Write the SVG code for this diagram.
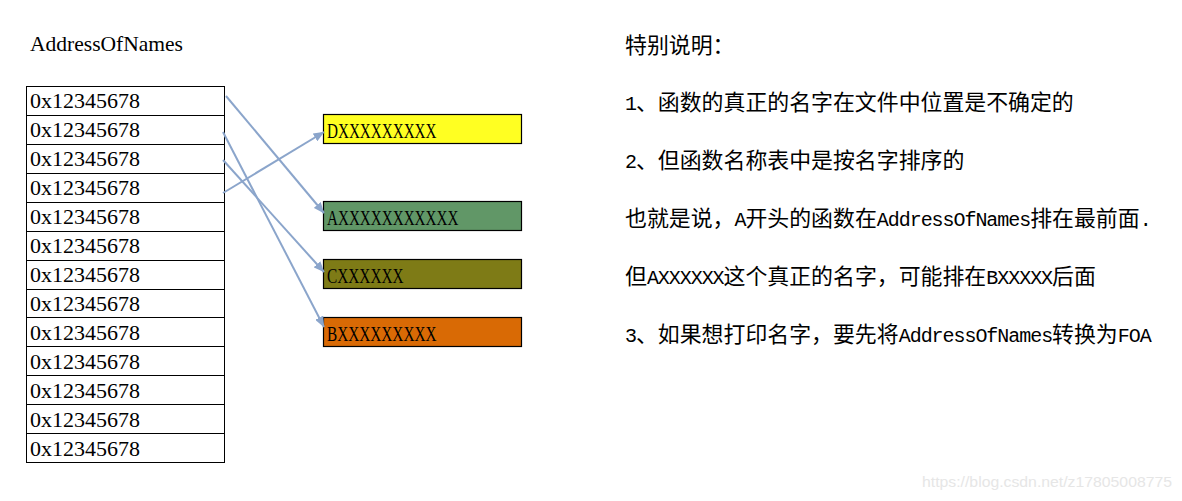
<svg xmlns="http://www.w3.org/2000/svg" width="1182" height="501" viewBox="0 0 1182 501">
<style>
.lt{font-family:"Liberation Serif",serif;font-size:22px;fill:#000}
.mo{font-family:"Liberation Mono",monospace;font-size:20px;letter-spacing:-1.05px;fill:#000}
.cn{font-family:"Noto Sans CJK SC","Noto Sans CJK JP",sans-serif;font-size:21.9px;fill:#000}
.cell{fill:none;stroke:#000;stroke-width:1}
.box{stroke:#000;stroke-width:1.2}
.conn{fill:none;stroke:#8BA5CB;stroke-width:2}
.wm{font-family:"Liberation Sans",sans-serif;font-size:15px;fill:#E6E6E6}
</style>
<defs>
<marker id="ah" markerUnits="userSpaceOnUse" markerWidth="11" markerHeight="9" refX="10.5" refY="4.5" orient="auto">
<path d="M0,0 L11,4.5 L0,9 z" fill="#8BA5CB"/>
</marker>
</defs>
<rect width="1182" height="501" fill="#fff"/>

<g id="title">
<text class="lt" x="30" y="51" textLength="153" lengthAdjust="spacingAndGlyphs">AddressOfNames</text>
</g>

<g id="table">
<rect class="cell" x="26.5" y="86.5" width="198" height="376"/>
<path class="cell" d="M26.5,115.5H224.5M26.5,144.5H224.5M26.5,173.5H224.5M26.5,202.5H224.5M26.5,231.5H224.5M26.5,260.5H224.5M26.5,289.5H224.5M26.5,317.5H224.5M26.5,346.5H224.5M26.5,375.5H224.5M26.5,404.5H224.5M26.5,433.5H224.5"/>
<text class="lt" x="30" y="108">0x12345678</text>
<text class="lt" x="30" y="137">0x12345678</text>
<text class="lt" x="30" y="166">0x12345678</text>
<text class="lt" x="30" y="195">0x12345678</text>
<text class="lt" x="30" y="224">0x12345678</text>
<text class="lt" x="30" y="253">0x12345678</text>
<text class="lt" x="30" y="282">0x12345678</text>
<text class="lt" x="30" y="311">0x12345678</text>
<text class="lt" x="30" y="340">0x12345678</text>
<text class="lt" x="30" y="369">0x12345678</text>
<text class="lt" x="30" y="398">0x12345678</text>
<text class="lt" x="30" y="427">0x12345678</text>
<text class="lt" x="30" y="456">0x12345678</text>
</g>

<g id="nodeD">
<rect class="box" x="323.5" y="114.5" width="198" height="29" fill="#FFFF22"/>
<text class="lt" x="327" y="137.5" textLength="109.5" lengthAdjust="spacingAndGlyphs">DXXXXXXXXX</text>
</g>
<g id="nodeA">
<rect class="box" x="323.5" y="201.5" width="198" height="29" fill="#619767"/>
<text class="lt" x="327" y="224.5" textLength="131.4" lengthAdjust="spacingAndGlyphs">AXXXXXXXXXXX</text>
</g>
<g id="nodeC">
<rect class="box" x="323.5" y="259.5" width="198" height="29" fill="#7E7B16"/>
<text class="lt" x="327" y="282.5" textLength="76.6" lengthAdjust="spacingAndGlyphs">CXXXXXX</text>
</g>
<g id="nodeB">
<rect class="box" x="323.5" y="317.5" width="198" height="29" fill="#D96A05"/>
<text class="lt" x="327" y="340.5" textLength="109.5" lengthAdjust="spacingAndGlyphs">BXXXXXXXXX</text>
</g>

<g id="connectors">
<line class="conn" x1="226" y1="96" x2="324" y2="213" marker-end="url(#ah)"/>
<line class="conn" x1="223" y1="132" x2="324" y2="327" marker-end="url(#ah)"/>
<line class="conn" x1="223" y1="160" x2="324" y2="272" marker-end="url(#ah)"/>
<line class="conn" x1="223" y1="193" x2="324" y2="132" marker-end="url(#ah)"/>
</g>

<g id="notes">
<text class="cn" x="625" y="53">特别说明：</text>
<text y="110"><tspan class="mo" x="625">1</tspan><tspan class="cn" x="635.95">、函数的真正的名字在文件中位置是不确定的</tspan></text>
<text y="168"><tspan class="mo" x="625">2</tspan><tspan class="cn" x="635.95">、但函数名称表中是按名字排序的</tspan></text>
<text y="226"><tspan class="cn" x="625">也就是说，</tspan><tspan class="mo" x="734.5">A</tspan><tspan class="cn" x="745.45">开头的函数在</tspan><tspan class="mo" x="876.85">AddressOfNames</tspan><tspan class="cn" x="1030.15">排在最前面</tspan><tspan class="mo" x="1139.65">.</tspan></text>
<text y="284"><tspan class="cn" x="625">但</tspan><tspan class="mo" x="646.9">AXXXXXX</tspan><tspan class="cn" x="723.55">这个真正的名字，可能排在</tspan><tspan class="mo" x="986.35">BXXXXX</tspan><tspan class="cn" x="1052.05">后面</tspan></text>
<text y="342"><tspan class="mo" x="625">3</tspan><tspan class="cn" x="635.95">、如果想打印名字，要先将</tspan><tspan class="mo" x="898.75">AddressOfNames</tspan><tspan class="cn" x="1052.05">转换为</tspan><tspan class="mo" x="1117.75">FOA</tspan></text>
</g>

<g id="watermark">
<text class="wm" x="922" y="487" textLength="250" lengthAdjust="spacingAndGlyphs">https://blog.csdn.net/z17805008775</text>
</g>
</svg>
